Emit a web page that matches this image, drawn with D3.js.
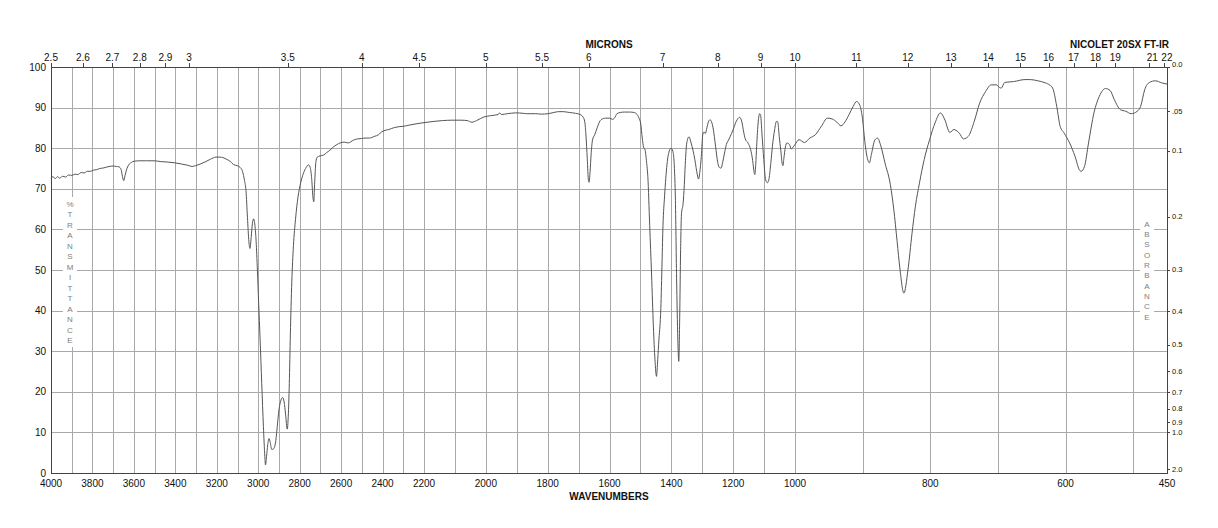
<!DOCTYPE html>
<html>
<head>
<meta charset="utf-8">
<script src="https://cdn.jsdelivr.net/npm/d3@7"></script>
<style>
  html, body { margin: 0; padding: 0; background: #fff; }
  svg { display: block; }
  text { font-family: "Liberation Sans", Arial, Helvetica, sans-serif; }
</style>
</head>
<body>
<svg id="chart" width="1218" height="528"></svg>
<script>
// ---- data ----
const wavenumbers = [
  4000,3990,3980,3968,3958,3945,3930,3915,3900,3885,3870,3855,3840,3825,3810,3795,3780,3765,3750,3735,3720,3700,3685,3672,3662,3655,3649,3643,3636,3625,3612,3598,3570,3540,3503,3470,3440,3402,3370,3340,3320,3302,3280,3257,3230,3204,3185,3171,3150,3136,3120,3102,3088,3076,3066,3059,3052,3045,3040,3034,3028,3022,3016,3010,3004,2998,2991,2983,2975,2968,2965,2960,2954,2948,2942,2935,2928,2922,2915,2908,2900,2890,2882,2875,2868,2860,2855,2850,2845,2838,2830,2820,2808,2795,2782,2768,2758,2750,2742,2736,2732,2728,2722,2715,2702,2685,2670,2654,2640,2620,2605,2585,2566,2540,2520,2501,2480,2463,2440,2420,2405,2394,2370,2342,2320,2299,2270,2238,2200,2168,2140,2110,2080,2060,2045,2030,2006,1985,1960,1955,1950,1930,1903,1880,1868,1840,1820,1799,1780,1765,1750,1730,1710,1695,1685,1680,1676,1672,1668,1666,1663,1659,1655,1648,1640,1630,1620,1612,1600,1590,1583,1576,1565,1552,1535,1521,1512,1505,1499,1494,1490,1485,1480,1476,1470,1464,1458,1453,1448,1444,1440,1434,1430,1427,1422,1418,1410,1401,1395,1390,1387,1383,1379,1376,1373,1370,1367,1362,1358,1355,1350,1343,1336,1330,1324,1316,1312,1308,1303,1298,1294,1290,1285,1280,1275,1270,1265,1257,1250,1244,1239,1234,1228,1222,1215,1210,1200,1190,1179,1172,1166,1161,1152,1142,1137,1132,1130,1127,1124,1119,1114,1111,1107,1101,1095,1089,1084,1078,1073,1066,1060,1056,1051,1046,1041,1039,1036,1031,1026,1018,1012,1008,1000,994,986,978,970,961,952,945,938,932,926,920,914,909,904,900,897,893,890,887,882,878,873,867,859,854,849,845,839,833,827,822,816,809,801,793,785,779,771,765,762,757,751,747,743,735,727,718,710,702,698,695,690,677,660,652,641,630,623,619,613,608,602,594,586,579,577,572,566,558,550,541,534,528,519,511,503,494,489,483,476,467,458,450
];
const transmittance = [
  72.6,73.0,72.5,73.0,72.6,73.1,72.9,73.4,73.3,73.6,73.5,74.0,73.9,74.3,74.3,74.6,74.7,75.0,75.1,75.3,75.5,75.6,75.5,75.4,74.8,73.0,72.0,73.2,74.6,75.9,76.5,76.8,76.9,76.9,76.9,76.7,76.6,76.4,76.1,75.8,75.5,75.7,76.1,76.6,77.3,77.8,77.8,77.7,77.2,76.8,76.0,75.7,75.3,74.3,72.0,69.5,63.0,57.0,55.3,58.0,61.5,62.6,61.0,57.0,50.0,42.0,33.0,22.0,11.5,4.0,2.0,4.0,7.0,8.5,7.5,5.8,5.9,6.3,8.0,11.5,15.5,18.0,18.6,17.5,14.5,10.8,14.0,22.0,34.0,47.0,56.0,62.5,68.0,71.5,73.8,75.3,75.9,75.4,72.5,68.0,66.8,71.0,76.5,77.8,78.1,78.3,78.9,79.5,80.2,80.9,81.3,81.5,81.3,82.0,82.3,82.4,82.5,82.5,82.9,83.3,84.0,84.3,84.6,85.1,85.3,85.4,85.7,86.0,86.3,86.6,86.8,86.9,86.9,86.8,86.4,86.8,87.7,88.0,88.3,88.7,88.3,88.5,88.7,88.6,88.5,88.5,88.4,88.5,88.8,89.0,89.0,88.8,88.6,88.3,87.6,86.5,83.0,77.5,72.0,71.6,74.0,79.0,82.0,83.3,85.0,86.8,87.3,87.4,87.4,87.1,87.5,88.5,88.8,88.9,88.9,88.8,88.4,87.5,86.0,82.5,80.3,79.6,76.5,73.0,61.0,49.0,36.0,28.0,23.8,28.0,33.0,40.5,52.0,61.0,68.0,72.5,78.3,80.0,79.2,75.0,68.0,48.0,33.0,27.5,38.0,55.0,64.0,66.3,71.0,76.0,81.3,82.8,81.3,79.5,77.2,73.5,72.4,74.0,78.0,83.5,84.0,83.6,85.0,86.5,87.0,86.5,85.0,80.5,76.5,75.2,75.1,76.5,78.8,80.9,82.0,82.8,84.6,86.6,87.6,86.5,84.0,82.3,81.3,79.2,77.0,74.0,73.5,76.0,80.5,86.5,88.5,88.0,83.7,77.2,72.2,71.5,72.5,76.5,80.5,84.5,86.6,86.5,82.9,79.5,76.0,75.7,77.5,80.3,81.3,80.9,79.8,80.1,80.9,82.1,81.4,82.5,83.3,85.4,87.4,87.2,86.4,85.5,86.5,88.3,90.3,91.5,90.5,87.0,82.0,77.5,76.4,78.5,82.0,82.5,80.5,76.4,71.0,65.0,57.0,50.5,44.3,50.0,59.0,65.7,71.4,77.2,82.1,86.2,88.7,87.2,83.9,84.6,84.4,83.7,82.3,82.5,83.1,86.6,91.1,94.0,95.6,95.6,95.0,94.8,96.2,96.4,96.9,96.9,96.6,96.1,95.5,94.8,90.3,85.4,83.7,81.3,78.0,74.5,74.3,75.5,81.3,88.7,92.8,94.7,94.2,92.0,89.5,89.1,88.5,89.1,90.3,94.4,96.2,96.6,96.1,95.8
];

// axis values
const xScaleBreaks = [4000, 2200, 1000, 450];
const wavenumberTicks = [4000,3800,3600,3400,3200,3000,2800,2600,2400,2200,2000,1800,1600,1400,1200,1000,800,600,450];
const gridWavenumbers = d3.range(3900, 499, -100);
const transmittanceTicks = [0,10,20,30,40,50,60,70,80,90,100];
const micronTicks = [2.5,2.6,2.7,2.8,2.9,3,3.5,4,4.5,5,5.5,6,7,8,9,10,11,12,13,14,15,16,17,18,19,21,22];
const absorbanceTicks = [0.0,0.05,0.1,0.2,0.3,0.4,0.5,0.6,0.7,0.8,0.9,1.0,2.0];
const absorbanceLabels = ["0.0",".05","0.1","0.2","0.3","0.4","0.5","0.6","0.7","0.8","0.9","1.0","2.0"];
const leftTitle = "%TRANSMITTANCE";
const rightTitle = "ABSORBANCE";

// ---- layout ----
const L = 51, R = 1167, T = 67, B = 473;
const x = d3.scaleLinear().domain(xScaleBreaks).range([L, 424, 795, R]);
const y = d3.scaleLinear().domain([0, 100]).range([B, T]);

const svg = d3.select("#chart");
const grid = "#a9a9a9";
const ink = "#111";

// grid
const g = svg.append("g").attr("shape-rendering", "crispEdges");
g.selectAll("line.v").data(gridWavenumbers).join("line")
  .attr("x1", d => Math.round(x(d)) + 0.5).attr("x2", d => Math.round(x(d)) + 0.5)
  .attr("y1", T).attr("y2", B).attr("stroke", grid).attr("stroke-width", 1);
g.selectAll("line.h").data(transmittanceTicks.filter(d => d > 0 && d < 100)).join("line")
  .attr("x1", L).attr("x2", R)
  .attr("y1", d => Math.round(y(d)) + 0.5).attr("y2", d => Math.round(y(d)) + 0.5)
  .attr("stroke", grid).attr("stroke-width", 1);

// white boxes behind vertical titles
svg.append("rect").attr("x", 63).attr("y", 197).attr("width", 14).attr("height", 150).attr("fill", "#fff");
svg.append("rect").attr("x", 1140).attr("y", 217).attr("width", 14).attr("height", 106).attr("fill", "#fff");

// vertical titles
svg.append("g").selectAll("text").data(leftTitle.split("")).join("text")
  .attr("x", 70).attr("y", (d, i) => 204 + i * 10.5).attr("dy", "0.35em")
  .attr("text-anchor", "middle").attr("font-size", 8).attr("fill", "#808080").text(d => d);
svg.append("g").selectAll("text").data(rightTitle.split("")).join("text")
  .attr("x", 1147).attr("y", (d, i) => 224 + i * 10.3).attr("dy", "0.35em")
  .attr("text-anchor", "middle").attr("font-size", 8).attr("fill", "#808080").text(d => d);

// spectrum
const line = d3.line().x((d, i) => x(wavenumbers[i])).y((d, i) => y(transmittance[i])).curve(d3.curveMonotoneX);
svg.append("path").datum(transmittance).attr("d", line)
  .attr("fill", "none").attr("stroke", "#555").attr("stroke-width", 1);

// frame
svg.append("rect").attr("x", L + 0.5).attr("y", T + 0.5).attr("width", R - L).attr("height", B - T)
  .attr("fill", "none").attr("stroke", "#444").attr("stroke-width", 1).attr("shape-rendering", "crispEdges");

// bottom axis labels
svg.append("g").selectAll("text").data(wavenumberTicks).join("text")
  .attr("x", d => x(d)).attr("y", 487).attr("text-anchor", "middle")
  .attr("font-size", 10).attr("fill", ink).text(d => d);
svg.append("text").attr("x", 609).attr("y", 500).attr("text-anchor", "middle")
  .attr("font-size", 10).attr("font-weight", "bold").attr("fill", ink).text("WAVENUMBERS");

// left axis labels
svg.append("g").selectAll("text").data(transmittanceTicks).join("text")
  .attr("x", 46).attr("y", d => y(d)).attr("dy", "0.35em").attr("text-anchor", "end")
  .attr("font-size", 10).attr("fill", ink).text(d => d);

// top micron axis
const micronOffset = d => (d === 21 || d === 22) ? 3 : 0;
svg.append("g").attr("shape-rendering", "crispEdges").selectAll("line").data(micronTicks).join("line")
  .attr("x1", d => Math.round(x(10000 / d)) + 0.5).attr("x2", d => Math.round(x(10000 / d)) + 0.5)
  .attr("y1", T - 4).attr("y2", T).attr("stroke", "#444");
svg.append("g").selectAll("text").data(micronTicks).join("text")
  .attr("x", d => x(10000 / d) + micronOffset(d)).attr("y", 61).attr("text-anchor", "middle")
  .attr("font-size", 10).attr("fill", ink).text(d => d);
svg.append("text").attr("x", 609).attr("y", 48).attr("text-anchor", "middle")
  .attr("font-size", 10).attr("font-weight", "bold").attr("fill", ink).text("MICRONS");
svg.append("text").attr("x", 1169).attr("y", 48).attr("text-anchor", "end")
  .attr("font-size", 10).attr("font-weight", "bold").attr("fill", ink).text("NICOLET 20SX FT-IR");

// right absorbance axis
const yA = a => y(100 * Math.pow(10, -a));
svg.append("g").attr("shape-rendering", "crispEdges").selectAll("line").data(absorbanceTicks).join("line")
  .attr("x1", R).attr("x2", R + 3)
  .attr("y1", d => Math.round(yA(d)) + 0.5).attr("y2", d => Math.round(yA(d)) + 0.5)
  .attr("stroke", "#444");
svg.append("g").selectAll("text").data(absorbanceTicks).join("text")
  .attr("x", R + 5).attr("y", d => yA(d) - (d === 0 ? 3 : 0)).attr("dy", "0.35em")
  .attr("font-size", 7.5).attr("fill", ink).text((d, i) => absorbanceLabels[i]);
</script>
</body>
</html>
